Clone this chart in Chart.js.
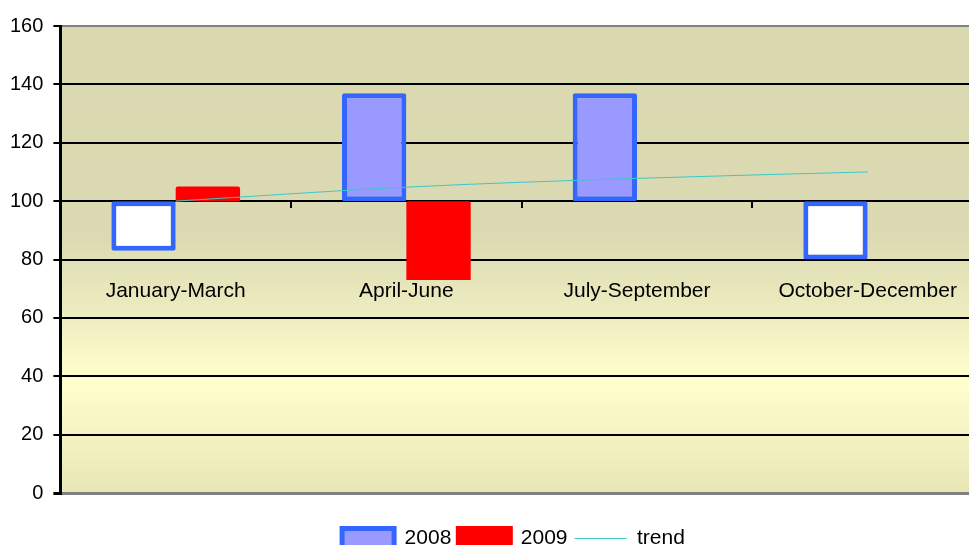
<!DOCTYPE html>
<html>
<head>
<meta charset="utf-8">
<script src="https://cdn.jsdelivr.net/npm/chart.js@4.4.1/dist/chart.umd.min.js"></script>
<style>
  html, body { margin: 0; padding: 0; background: #fff; overflow: hidden; }
  #wrap { position: relative; width: 1027px; height: 559px; }
</style>
</head>
<body>
<div id="wrap"><canvas id="chart"></canvas></div>
<script>
// ===== DATA =====
const categories = ["January-March", "April-June", "July-September", "October-December"];
const values2008 = [83, 137, 137, 80];
const values2009 = [105, 73, null, null];
const trendValues = [100, 104.8, 107.8, 110];
const baseValue = 100;           // bars hang from the 100 line
const yTicks = [0, 20, 40, 60, 80, 100, 120, 140, 160];

const FONT = "'Liberation Sans', Arial, sans-serif";

// floating bars [base, value]
const toFloat = arr => arr.map(v => v === null ? null : [baseValue, v]);

// plot area gradient (olive at top, pale yellow lower down)
const plotBg = {
  id: "plotBg",
  beforeDraw(chart) {
    const { ctx, chartArea: a } = chart;
    const g = ctx.createLinearGradient(0, a.top, 0, a.bottom);
    g.addColorStop(0, "#D9D8AF");
    g.addColorStop(0.45, "#DCDAB2");
    g.addColorStop(0.62, "#EEEDC0");
    g.addColorStop(0.76, "#FFFFCD");
    g.addColorStop(1, "#E8E6B5");
    ctx.save();
    ctx.fillStyle = g;
    ctx.fillRect(a.left, a.top, a.right - a.left, a.bottom - a.top);
    ctx.restore();
  }
};

new Chart(document.getElementById("chart"), {
  type: "bar",
  data: {
    labels: categories,
    datasets: [
      {
        label: "2008",
        data: toFloat(values2008),
        xAxisID: "x",
        backgroundColor: c => (c.raw && c.raw[1] < baseValue) ? "#FFFFFF" : "#9999FF",
        borderColor: "#3366FF",
        borderWidth: 5,
        borderSkipped: false,
        borderRadius: 2,
        pointStyle: "rect",
        order: 1
      },
      {
        label: "2009",
        data: toFloat(values2009),
        xAxisID: "x",
        backgroundColor: "#FF0000",
        borderWidth: 0,
        borderRadius: 2,
        pointStyle: "rect",
        order: 1
      },
      {
        type: "line",
        label: "trend",
        data: trendValues,
        xAxisID: "x",
        borderColor: "#3CC8C8",
        borderWidth: 1,
        pointRadius: 0,
        pointStyle: "line",
        pointBorderColor: "#3CC8C8",
        pointBackgroundColor: "#3CC8C8",
        pointBorderWidth: 1,
        cubicInterpolationMode: "monotone",
        order: 0
      }
    ]
  },
  options: {
    responsive: true,
    maintainAspectRatio: false,
    animation: false,
    devicePixelRatio: 1,
    datasets: { bar: { categoryPercentage: 0.558, barPercentage: 1.0 } },
    layout: { padding: { top: 26, left: 0, right: 0, bottom: 0 } },
    scales: {
      x: {
        position: { y: baseValue },
        offset: true,
        grid: { offset: true, drawOnChartArea: false, drawTicks: true, tickLength: 6, color: "#000", lineWidth: 2 },
        border: { display: true, color: "#000", width: 2 },
        ticks: { color: "#000", font: { family: FONT, size: 21 }, padding: 71, maxRotation: 0, autoSkip: false },
        // plot runs past the right edge of the picture
        afterFit: s => { s.paddingLeft = 0; s.paddingRight = 44; }
      },
      xb: {
        type: "category",
        labels: categories,
        position: "bottom",
        offset: true,
        grid: { display: false },
        border: { display: false },
        ticks: { display: false },
        afterFit: s => { s.height = 28; s.paddingLeft = 0; s.paddingRight = 0; }
      },
      y: {
        min: 0,
        max: 160,
        afterBuildTicks: s => { s.ticks = yTicks.map(v => ({ value: v })); },
        grid: {
          color: c => (c.tick && (c.tick.value === 0 || c.tick.value === 160)) ? "#808080" : "#000",
          lineWidth: c => (c.tick && c.tick.value === 0) ? 3 : 2,
          tickColor: "#000",
          tickLength: 7
        },
        border: { display: true, color: "#000", width: 3 },
        ticks: { color: "#000", font: { family: FONT, size: 20 }, padding: 10 }
      }
    },
    plugins: {
      tooltip: { enabled: false },
      legend: {
        position: "bottom",
        labels: {
          sort: (a, b) => a.datasetIndex - b.datasetIndex,
          usePointStyle: true,
          pointStyleWidth: 52,
          boxHeight: 20,
          padding: 7,
          color: "#000",
          font: { family: FONT, size: 21 },
          generateLabels: chart => {
            const items = Chart.defaults.plugins.legend.labels.generateLabels(chart);
            items.forEach(it => {
              if (it.datasetIndex === 0) it.fillStyle = "#9999FF";
              if (it.datasetIndex === 1) { it.strokeStyle = "#FF0000"; it.lineWidth = 5; }
              if (it.datasetIndex === 2) it.pointStyleWidth = 54;
            });
            return items;
          }
        }
      }
    }
  },
  plugins: [plotBg]
});
</script>
</body>
</html>
